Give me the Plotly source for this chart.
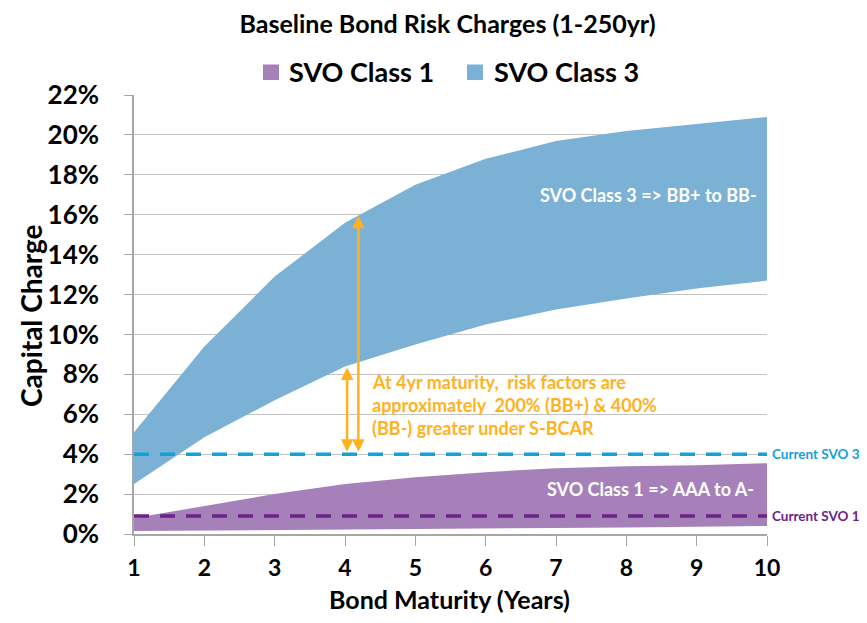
import plotly.graph_objects as go

years = [1, 2, 3, 4, 5, 6, 7, 8, 9, 10]
svo3_low = [2.5, 4.85, 6.7, 8.4, 9.5, 10.5, 11.25, 11.8, 12.3, 12.7]
svo3_high = [5.1, 9.4, 12.9, 15.6, 17.5, 18.8, 19.7, 20.2, 20.55, 20.9]
svo1_low = [0.15, 0.17, 0.19, 0.21, 0.24, 0.27, 0.3, 0.33, 0.36, 0.4]
svo1_high = [0.8, 1.4, 2.0, 2.5, 2.85, 3.1, 3.3, 3.4, 3.45, 3.55]
current_svo3 = 4.0
current_svo1 = 0.9
y_ticks = [0, 2, 4, 6, 8, 10, 12, 14, 16, 18, 20, 22]
series_names = ["SVO Class 1", "SVO Class 3"]

PURPLE = "#A680B8"
BLUE = "#7BB1D4"
DASH_BLUE = "#13A1D9"
DASH_PURPLE = "#6C2386"
ORANGE = "#FFB21E"
FONT = "Lato"

# page body has an 8px margin: figure is sized so it fits the 867x623 window
W, H = 851, 607

fig = go.Figure()

# Class 3 band
fig.add_trace(go.Scatter(x=years, y=svo3_low, mode="lines", line=dict(width=0),
                         showlegend=False, hoverinfo="skip"))
fig.add_trace(go.Scatter(x=years, y=svo3_high, mode="lines", line=dict(width=0),
                         fill="tonexty", fillcolor=BLUE, name=series_names[1], showlegend=False))
# Class 1 band
fig.add_trace(go.Scatter(x=years, y=svo1_low, mode="lines", line=dict(width=0),
                         showlegend=False, hoverinfo="skip"))
fig.add_trace(go.Scatter(x=years, y=svo1_high, mode="lines", line=dict(width=0),
                         fill="tonexty", fillcolor=PURPLE, name=series_names[0], showlegend=False))

# Current lines
fig.add_trace(go.Scatter(x=[years[0], years[-1]], y=[current_svo3, current_svo3], mode="lines",
                         line=dict(color=DASH_BLUE, width=3.5, dash="15px,11px"), showlegend=False))
fig.add_trace(go.Scatter(x=[years[0], years[-1]], y=[current_svo1, current_svo1], mode="lines",
                         line=dict(color=DASH_PURPLE, width=3.5, dash="15px,11px"), showlegend=False))

annotations = []
shapes = []

# manual legend (paper coords; plot area 633 x 439 px)
def px_x(px):
    return (px - 134) / 633

def px_y(py):
    return (534 - py) / 439

for name, color, sq_left, txt_left in [(series_names[0], PURPLE, 263, 287),
                                        (series_names[1], BLUE, 467, 492)]:
    shapes.append(dict(type="rect", xref="paper", yref="paper",
                       x0=px_x(sq_left), x1=px_x(sq_left + 16), y0=px_y(80), y1=px_y(64.5),
                       fillcolor=color, line=dict(width=0)))
    annotations.append(dict(x=px_x(txt_left), y=px_y(71.5), xref="paper", yref="paper",
                            xanchor="left", yanchor="middle", showarrow=False, text=name,
                            font=dict(family=FONT, size=27, color="black", weight="bold")))

# arrows
annotations.append(dict(x=4.03, y=8.35, ax=4.03, ay=4.05, xref="x", yref="y", axref="x", ayref="y",
                        showarrow=True, arrowhead=2, startarrowhead=2, arrowside="end+start",
                        arrowsize=1, arrowwidth=2.5, arrowcolor=ORANGE, text=""))
annotations.append(dict(x=4.19, y=15.95, ax=4.19, ay=4.05, xref="x", yref="y", axref="x", ayref="y",
                        showarrow=True, arrowhead=2, startarrowhead=2, arrowside="end+start",
                        arrowsize=1, arrowwidth=2.5, arrowcolor=ORANGE, text=""))
# orange text
for txt, yv in [("At 4yr maturity,  risk factors are", 7.62),
                ("approximately  200% (BB+) & 400%", 6.47),
                ("(BB-) greater under S-BCAR", 5.31)]:
    annotations.append(dict(x=4.356, y=yv, xref="x", yref="y", xanchor="left", yanchor="middle",
                            showarrow=False, text=txt,
                            font=dict(family=FONT, size=18, color=ORANGE, weight="bold")))
# band labels
annotations.append(dict(x=8.31, y=17.0, xref="x", yref="y", showarrow=False,
                        text="SVO Class 3 => BB+ to BB-",
                        font=dict(family=FONT, size=18, color="white", weight="bold")))
annotations.append(dict(x=8.35, y=2.25, xref="x", yref="y", showarrow=False,
                        text="SVO Class 1 => AAA to A-",
                        font=dict(family=FONT, size=18, color="white", weight="bold")))
# current labels
annotations.append(dict(x=1.005, y=current_svo3, xref="paper", yref="y", xanchor="left",
                        showarrow=False, text="Current SVO 3",
                        font=dict(family=FONT, size=13.5, color=DASH_BLUE, weight="bold")))
annotations.append(dict(x=1.005, y=current_svo1, xref="paper", yref="y", xanchor="left",
                        showarrow=False, text="Current SVO 1",
                        font=dict(family=FONT, size=13.5, color=DASH_PURPLE, weight="bold")))
# axis titles
annotations.append(dict(x=px_x(31), y=px_y(316), xref="paper", yref="paper", textangle=-90,
                        xanchor="center", yanchor="middle",
                        showarrow=False, text="Capital Charge",
                        font=dict(family=FONT, size=28, color="black", weight="bold")))
annotations.append(dict(x=px_x(449), y=px_y(599), xref="paper", yref="paper",
                        xanchor="center", yanchor="middle",
                        showarrow=False, text="Bond Maturity (Years)",
                        font=dict(family=FONT, size=25, color="black", weight="bold")))

fig.update_layout(
    width=W, height=H,
    margin=dict(l=126, r=92, t=87, b=81, autoexpand=False),
    paper_bgcolor="white", plot_bgcolor="white",
    title=dict(text="Baseline Bond Risk Charges (1-250yr)", x=(447.5 - 8) / W, xanchor="center",
               y=1 - 16 / H, yanchor="middle",
               font=dict(family=FONT, size=25, color="black", weight="bold")),
    annotations=annotations,
    shapes=shapes,
    showlegend=False,
)

fig.update_xaxes(range=[1, 10], tickvals=years, ticks="outside", ticklen=10,
                 tickcolor="#A6A6A6", showline=True, linecolor="#A6A6A6", linewidth=1.5,
                 showgrid=False, zeroline=False, ticklabelstandoff=3, automargin=False,
                 tickfont=dict(family=FONT, size=23, color="black", weight="bold"))
fig.update_yaxes(range=[0, 22], tickvals=y_ticks, ticktext=[f"{v}%" for v in y_ticks],
                 ticks="outside", ticklen=8, tickcolor="#A6A6A6",
                 showline=True, linecolor="#A6A6A6", linewidth=1.5,
                 showgrid=True, gridcolor="#C4C4C4", gridwidth=1, zeroline=False,
                 ticklabelstandoff=20, automargin=False,
                 tickfont=dict(family=FONT, size=26, color="black", weight="bold"))

fig.write_html("out.html")
